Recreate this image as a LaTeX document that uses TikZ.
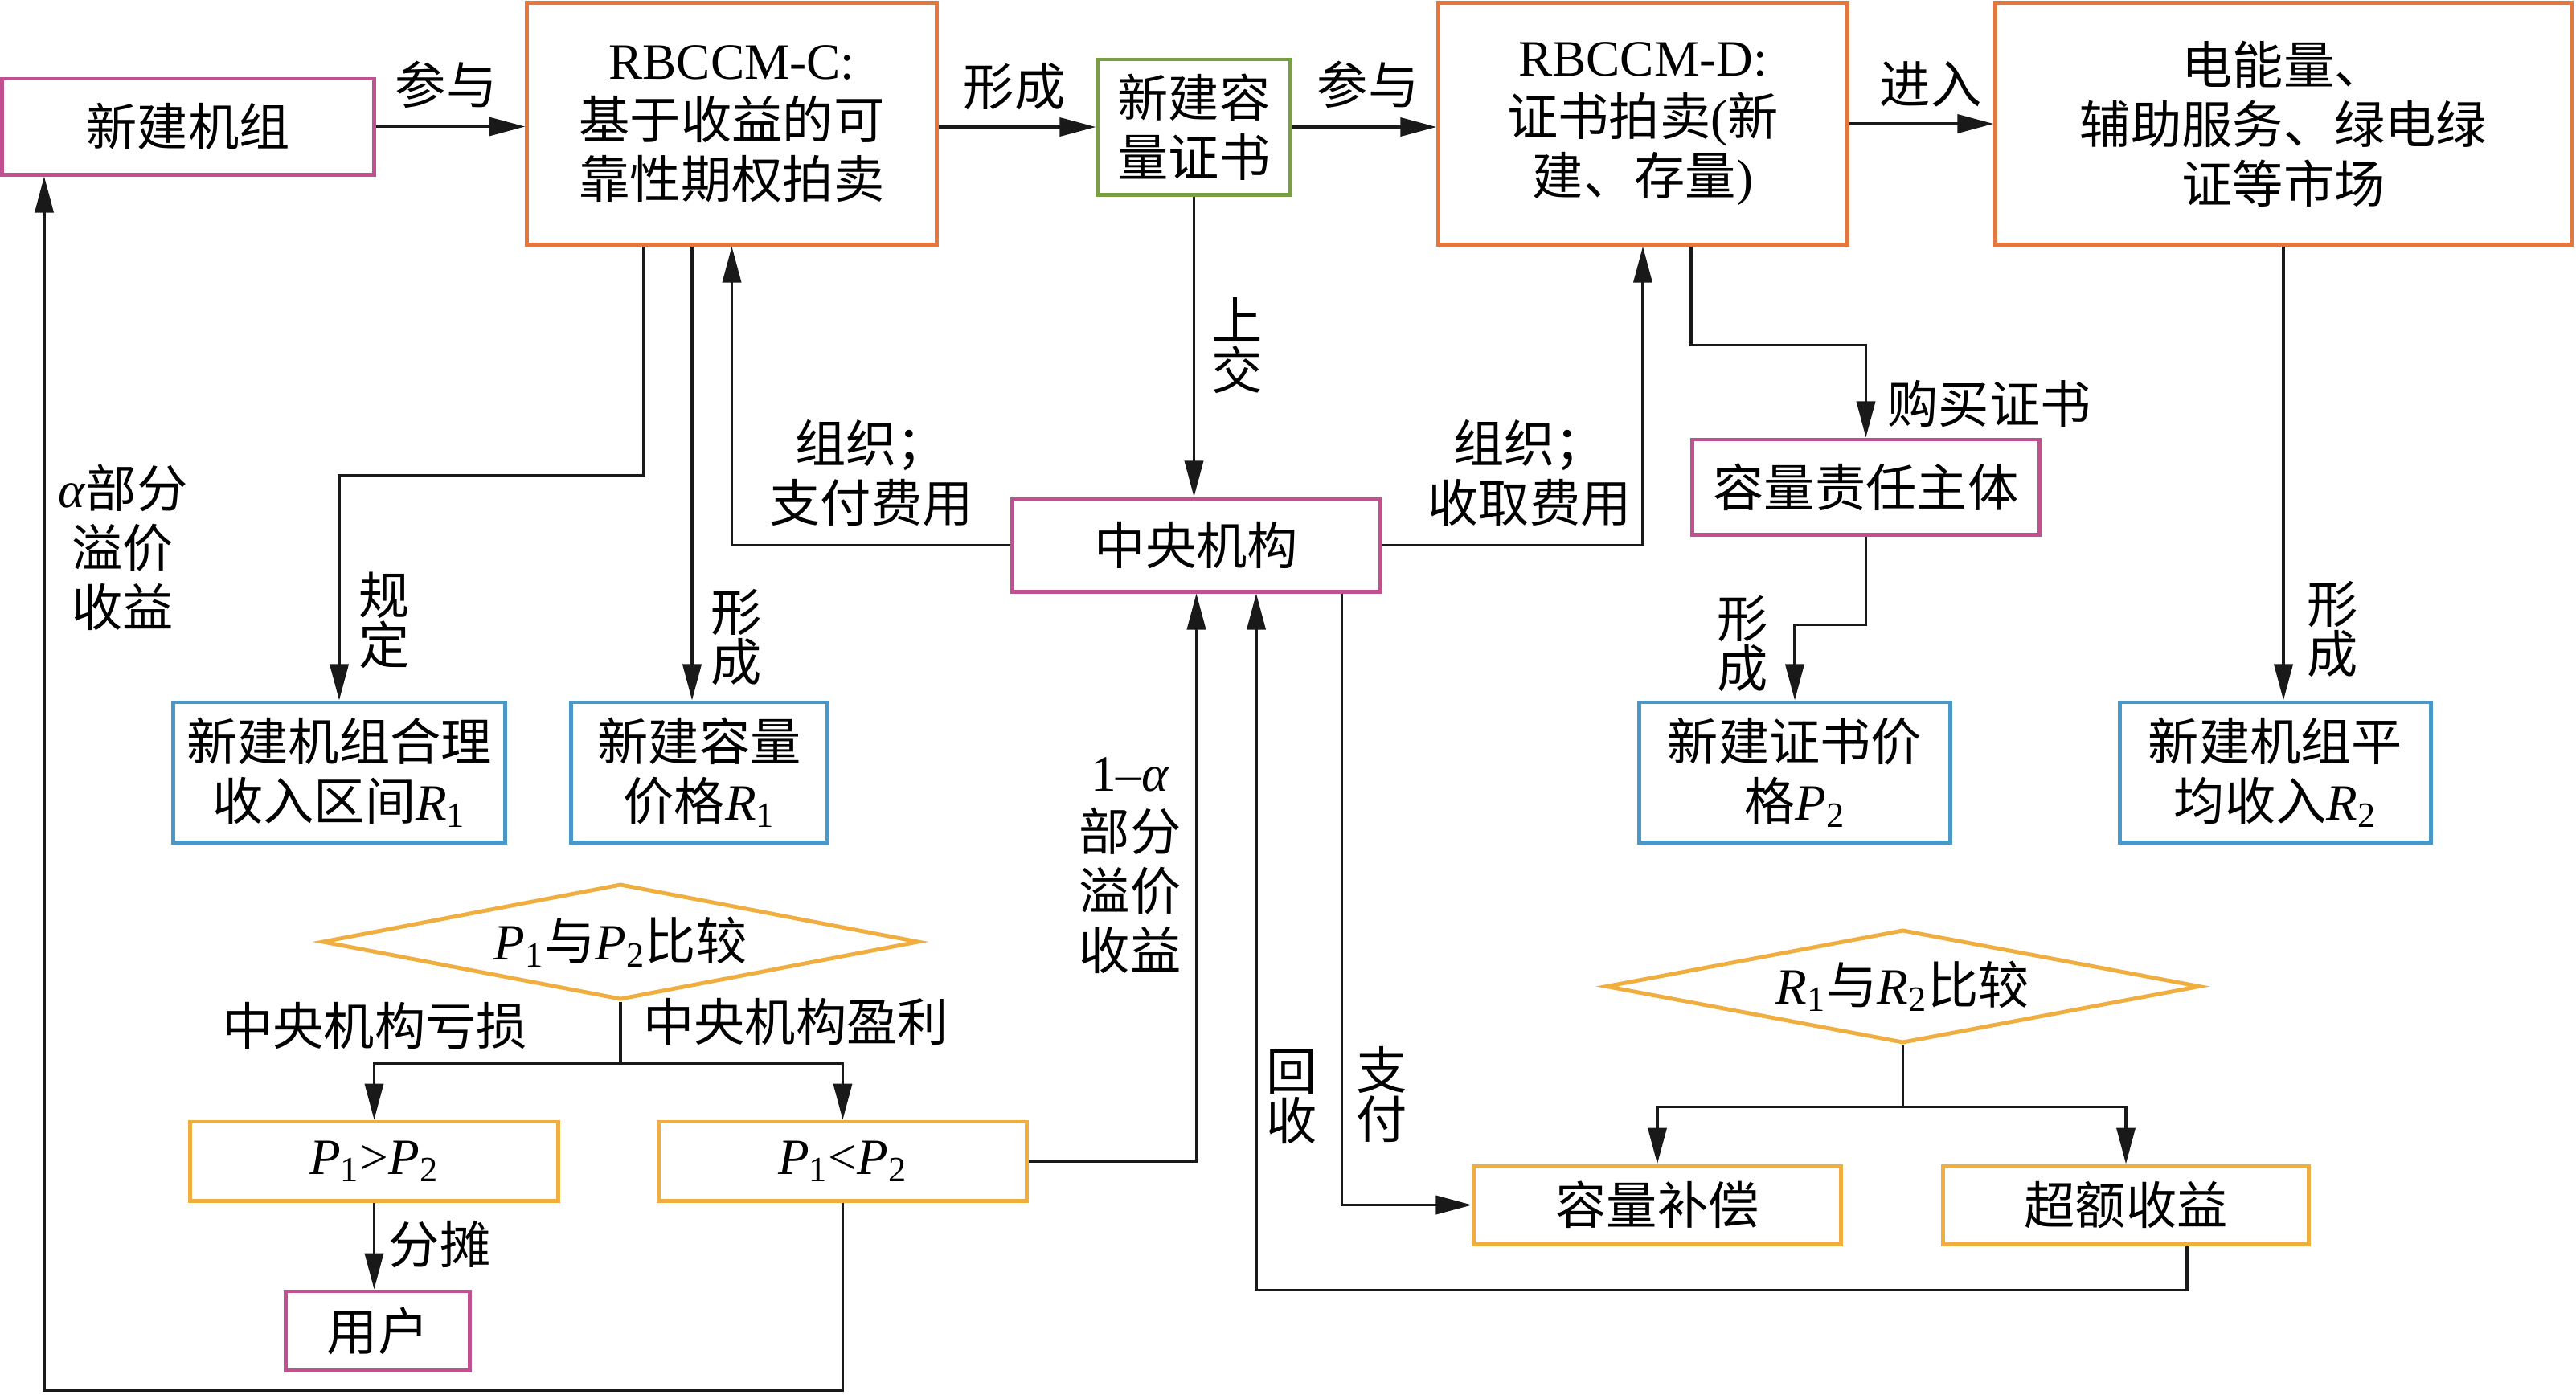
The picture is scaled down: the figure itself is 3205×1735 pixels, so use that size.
\documentclass[tikz,border=0pt]{standalone}
\usepackage{fontspec}
\setmainfont{Liberation Serif}
\newfontfamily\cjk{Noto Sans CJK SC}
\usetikzlibrary{arrows.meta,shapes.geometric,calc}
\definecolor{cpink}{RGB}{192,80,143}
\definecolor{corange}{RGB}{226,119,63}
\definecolor{cgreen}{RGB}{120,160,66}
\definecolor{cblue}{RGB}{74,152,200}
\definecolor{cyellow}{RGB}{240,174,64}
\newcommand\lat[1]{{\rmfamily #1}}
\newcommand\PP[1]{{\rmfamily\textit{P}\textsubscript{#1}}}
\newcommand\RR[1]{{\rmfamily\textit{R}\textsubscript{#1}}}
\newcommand\bodyfnt{\fontsize{18}{21}\selectfont\cjk}
\newcommand\vfnt{\fontsize{18}{17.5}\selectfont\cjk\lineskiplimit=-20pt}
\tikzset{
  box/.style={draw, line width=1.4pt, inner sep=0pt, align=center, font=\bodyfnt},
  dia/.style={draw, shape=diamond, aspect=5.15, line width=1.4pt, inner sep=0pt, align=center, font=\bodyfnt},
  lab/.style={inner sep=0pt, align=center, font=\bodyfnt},
  vlab/.style={inner sep=0pt, align=center, font=\vfnt},
  ln/.style={line width=1.05pt, draw=black!90},
  arr/.style={ln, -{Triangle[length=4.5mm,width=2.3mm]}},
}
\begin{document}
\begin{tikzpicture}[x=0.01cm,y=-0.01cm]
\useasboundingbox (0,0) rectangle (3205,1735);
% boxes
\node[box,draw=cpink,minimum width=4.62cm,minimum height=1.19cm] (A) at (234,157.5) {新建机组};
\node[box,draw=corange,minimum width=5.09cm,minimum height=3.0cm] (B) at (910.5,154) {\lat{RBCCM-C:}\\基于收益的可\\靠性期权拍卖};
\node[box,draw=cgreen,minimum width=2.39cm,minimum height=1.68cm] (C) at (1485.5,158) {新建容\\量证书};
\node[box,draw=corange,minimum width=5.08cm,minimum height=3.0cm] (D) at (2044,154) {\lat{RBCCM-D:}\\证书拍卖\lat{(}新\\建、存量\lat{)}};
\node[box,draw=corange,minimum width=7.16cm,minimum height=3.0cm] (E) at (2841,154) {电能量、\\辅助服务、绿电绿\\证等市场};
\node[box,draw=cpink,minimum width=4.57cm,minimum height=1.15cm] (F) at (1488.5,678.5) {中央机构};
\node[box,draw=cpink,minimum width=4.31cm,minimum height=1.18cm] (G) at (2321.5,606) {容量责任主体};
\node[box,draw=cblue,minimum width=4.12cm,minimum height=1.74cm] (H) at (422,961) {新建机组合理\\收入区间\RR{1}};
\node[box,draw=cblue,minimum width=3.18cm,minimum height=1.74cm] (I) at (870,961) {新建容量\\价格\RR{1}};
\node[box,draw=cblue,minimum width=3.86cm,minimum height=1.74cm] (J) at (2233,961) {新建证书价\\格\PP{2}};
\node[box,draw=cblue,minimum width=3.86cm,minimum height=1.74cm] (K) at (2831,961) {新建机组平\\均收入\RR{2}};
\node[dia,draw=cyellow,minimum width=7.42cm,minimum height=1.44cm] (L) at (772,1172) {\PP{1}与\PP{2}比较};
\node[dia,draw=cyellow,minimum width=7.39cm,minimum height=1.41cm] (M) at (2367.5,1227.5) {\RR{1}与\RR{2}比较};
\node[box,draw=cyellow,minimum width=4.57cm,minimum height=0.98cm] (N) at (465.5,1445) {\PP{1}\lat{>}\PP{2}};
\node[box,draw=cyellow,minimum width=4.57cm,minimum height=0.98cm] (O) at (1048.5,1445) {\PP{1}\lat{<}\PP{2}};
\node[box,draw=cpink,minimum width=2.28cm,minimum height=0.98cm] (P) at (470,1656) {用户};
\node[box,draw=cyellow,minimum width=4.56cm,minimum height=0.97cm] (Q) at (2062,1499.5) {容量补偿};
\node[box,draw=cyellow,minimum width=4.54cm,minimum height=0.97cm] (S) at (2645,1499.5) {超额收益};
% labels
\node[lab] (t1) at (555,105) {参与};
\node[lab] (t2) at (1262,108) {形成};
\node[lab] (t3) at (1702,105) {参与};
\node[lab] (t4) at (2402,105) {进入};
\node[lab] (t5) at (153,681) {\lat{\textit{α}}部分\\溢价\\收益};
\node[vlab] (t6) at (478,772) {规\\定};
\node[vlab] (t7) at (916,793) {形\\成};
\node[lab] (t8) at (1084,589) {组织；\\支付费用};
\node[vlab] (t9) at (1539,430) {上\\交};
\node[lab] (t10) at (1903,589) {组织；\\收取费用};
\node[lab] (t11) at (2475,502) {购买证书};
\node[vlab] (t12) at (2168,801) {形\\成};
\node[vlab] (t13) at (2902,783) {形\\成};
\node[lab] (t14) at (1406,1077) {\lat{1–\textit{α}}\\部分\\溢价\\收益};
\node[vlab] (t15) at (1607,1365) {回\\收};
\node[vlab] (t16) at (1719,1362) {支\\付};
\node[lab] (t17) at (466,1277) {中央机构亏损};
\node[lab] (t18) at (990,1271) {中央机构盈利};
\node[lab] (t19) at (547,1548) {分摊};
% top row arrows
\draw[arr] (A.east) -- (A.east -| B.west);
\draw[arr] (B.east |- C.west) -- (C.west);
\draw[arr] (C.east) -- (C.east -| D.west);
\draw[arr] (D.east) -- (E.west);
% from B
\coordinate (b1) at ($(B.south)+(-109.5,0)$);
\draw[arr] (b1) -- ++(0,285) -| (H.north);
\coordinate (b2) at ($(B.south)+(-49.5,0)$);
\draw[arr] (b2) -- (b2 |- I.north);
\draw[arr] (F.west) -| (B.south);
\draw[arr] (F.east) -| (D.south);
\draw[arr] (C.south) -- (C.south |- F.north);
\coordinate (d1) at ($(D.south)+(60,0)$);
\draw[arr] (d1) -- ++(0,123) -| (G.north);
\draw[arr] (G.south) -- ++(0,110) -| (J.north);
\draw[arr] (E.south) -- (E.south |- K.north);
% P comparison
\coordinate (l1) at ($(L.south)+(0,77)$);
\draw[ln] (L.south) -- (l1);
\draw[arr] (l1) -| (N.north);
\draw[arr] (l1) -| (O.north);
\draw[arr] (N.south) -- (N.south |- P.north);
\coordinate (lp) at (55,1730);
\draw[arr] (O.south) |- (lp) -- (lp |- A.south);
\draw[arr] (O.east) -| (F.south);
% R comparison
\coordinate (f1) at ($(F.south)+(74.5,0)$);
\coordinate (s1) at ($(S.south)+(76,0)$);
\draw[arr] (s1) -- ++(0,55) -| (f1);
\coordinate (f2) at ($(F.south)+(181,0)$);
\draw[arr] (f2) |- (Q.west);
\coordinate (m1) at ($(M.south)+(0,77)$);
\draw[ln] (M.south) -- (m1);
\draw[arr] (m1) -| (Q.north);
\draw[arr] (m1) -| (S.north);
\end{tikzpicture}
\end{document}
